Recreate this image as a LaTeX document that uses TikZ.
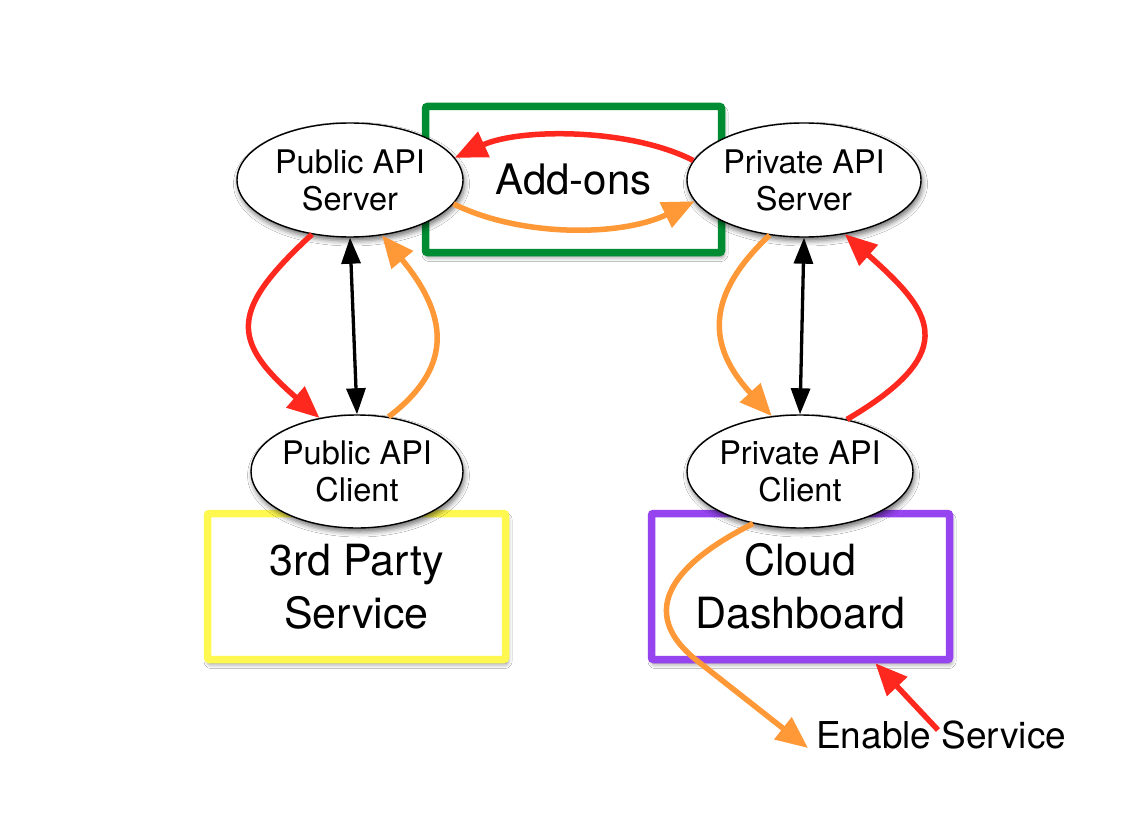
\documentclass[tikz,border=0pt]{standalone}
\usepackage{fontspec}
\setmainfont{TeX Gyre Heros}
\usetikzlibrary{arrows.meta,shapes.geometric,calc,shadows.blur}
\definecolor{cred}{RGB}{255,40,30}
\definecolor{corange}{RGB}{255,152,55}
\definecolor{cgreen}{RGB}{0,140,50}
\definecolor{cyellow}{RGB}{255,248,80}
\definecolor{cpurple}{RGB}{150,68,240}
\begin{document}
\begin{tikzpicture}[x=1pt,y=-1pt,
  shad/.style={blur shadow={shadow xshift=1.5pt,shadow yshift=-4pt,shadow blur radius=5pt,shadow opacity=55}},
  boxnode/.style={rectangle, draw=#1, line width=7.5pt, fill=white, rounded corners=2pt,
    minimum width=298pt, minimum height=146pt, align=center, inner sep=0pt, shad,
    font=\fontsize{43}{53}\selectfont},
  ellnode/.style={ellipse, draw=black, line width=1.4pt, fill=white, inner sep=0pt, shad},
  elltext/.style={align=center, inner sep=0pt, font=\fontsize{32.5}{37}\selectfont},
  redarr/.style={draw=cred, line width=5.5pt, -{Triangle[length=32pt,width=27pt]}},
  orarr/.style={draw=corange, line width=5.5pt, -{Triangle[length=32pt,width=27pt]}},
  blkarr/.style={draw=black, line width=3.3pt, {Triangle[length=26pt,width=19pt]}-{Triangle[length=26pt,width=19pt]}}
]
\path[use as bounding box, fill=white] (0,0) rectangle (1134,829);

% boxes
\node[boxnode=cgreen, minimum width=296pt, font=\fontsize{42}{49}\selectfont] (addons) at (573.5,179.5) {Add-ons};
\node[boxnode=cyellow] (third) at (356.5,586.5) {3rd Party\\Service};
\node[boxnode=cpurple] (dash) at (800.5,586.5) {Cloud\\Dashboard};

% ellipses
\node[ellnode, minimum width=226pt, minimum height=114pt] (pubs) at (350,180) {};
\node[elltext] (pubs-t) at (pubs) {Public API\\Server};
\node[ellnode, minimum width=234pt, minimum height=114pt] (privs) at (804,180) {};
\node[elltext] (privs-t) at (privs) {Private API\\Server};
\node[ellnode, minimum width=212pt, minimum height=113pt] (pubc) at (357,471.5) {};
\node[elltext] (pubc-t) at (pubc) {Public API\\Client};
\node[ellnode, minimum width=226pt, minimum height=113pt] (privc) at (800,471.5) {};
\node[elltext] (privc-t) at (privc) {Private API\\Client};

% label
\node[anchor=base west, inner sep=0pt, font=\fontsize{37}{44}\selectfont] (enable) at (816,748) {Enable Service};
\coordinate (eo) at (808,748);
\coordinate (es) at (938,730);

% connectors
\draw[redarr] (privs.170) .. controls (630,128) and (520,128) .. (pubs.12);
\draw[orarr] (pubs.347) .. controls (520,237) and (620,237) .. (privs.191);
\draw[redarr] (pubs.235) .. controls (230,310) and (230,340) .. (pubc.125);
\draw[blkarr] (pubs.270) -- (pubc.90);
\draw[orarr] (pubc.60) .. controls (450,370) and (452,320) .. (pubs.300);
\draw[orarr] (privs.238) .. controls (706,295) and (706,345) .. (privc.117);
\draw[blkarr] (privs.270) -- (privc.90);
\draw[redarr] (privc.48) .. controls (965,350) and (930,310) .. (privs.307);
\draw[orarr] (privc.228) .. controls (680,560) and (630,610) .. (700,663) -- (eo);
\draw[redarr] (es) -- ($(dash.south)!0.49!(dash.south east)$);
\end{tikzpicture}
\end{document}
